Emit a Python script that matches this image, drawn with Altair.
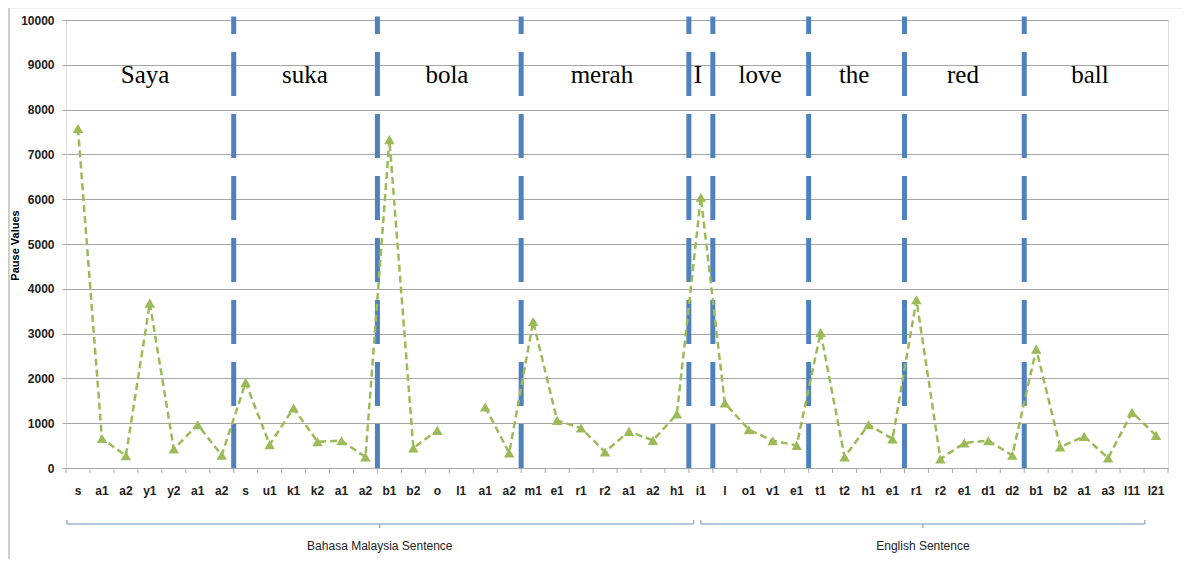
import altair as alt
import pandas as pd

# ---- data ----
cats = ["s", "a1", "a2", "y1", "y2", "a1", "a2",
        "s", "u1", "k1", "k2", "a1", "a2",
        "b1", "b2", "o", "l1", "a1", "a2",
        "m1", "e1", "r1", "r2", "a1", "a2", "h1",
        "i1",
        "l", "o1", "v1", "e1",
        "t1", "t2", "h1", "e1",
        "r1", "r2", "e1", "d1", "d2",
        "b1", "b2", "a1", "a3", "l11", "l21"]
values = [7580, 660, 275, 3680, 424, 967, 283,
          1911, 520, 1338, 587, 610, 245,
          7330, 446, 840, None, 1360, 335,
          3271, 1063, 892, 357, 818, 617, 1204,
          6045,
          1450, 855, 610, 505,
          3026, 245, 967, 647,
          3755, 200, 558, 610, 283,
          2654, 468, 706, 223, 1242, 729]

# word boundaries (index of first category of each new word)
boundaries = [7, 13, 19, 26, 27, 31, 35, 40]
words = ["Saya", "suka", "bola", "merah", "I", "love", "the", "red", "ball"]
word_pos = [2.8, 9.47, 15.4, 21.87, 25.88, 28.47, 32.4, 36.94, 42.24]
word_val = 8770

groups = ["Bahasa Malaysia Sentence", "English Sentence"]
group_start = [-0.46, 26.0]
group_end = [25.7, 44.53]
group_mid = [12.6, 35.27]

W, H = 1102, 448
n = len(cats)

df = pd.DataFrame({"i": list(range(n)), "cat": cats, "v": values})
df_pts = df[df["v"].notna()]
df_b = pd.DataFrame({"b": [b - 0.5 for b in boundaries], "y0": 0, "y1": 10080})
df_w = pd.DataFrame({"x": word_pos, "w": words, "y": word_val})
df_g = pd.DataFrame({"g": groups, "s": group_start, "e": group_end, "m": group_mid})
df_hooks = pd.DataFrame({"x": group_start + group_end})
df_ticks = pd.DataFrame({"t": [k - 0.5 for k in range(n + 1)]})

x_scale = alt.Scale(domain=[-0.5, n - 0.5], nice=False, zero=False)
y_scale = alt.Scale(domain=[0, 10000], nice=False)

x_axis = alt.Axis(
    labels=False, ticks=False, domainColor="#A6A6A6", grid=False, title=None,
)
y_axis = alt.Axis(
    values=list(range(0, 10001, 1000)), format="d", grid=True, gridColor="#A6A6A6",
    domain=False, tickSize=4, tickColor="#A6A6A6", labelPadding=8,
    labelFont="Liberation Sans", labelFontSize=12, labelFontWeight="bold",
    labelColor="#222222", title="Pause Values", titleFont="Liberation Sans",
    titleFontSize=11, titleFontWeight="bold", titleColor="#000000",
    titleAngle=-90, titleX=-46, titleY=225,
)

frame = alt.Chart(pd.DataFrame({"k": [0]})).mark_rect(
    fillOpacity=0, stroke="#BFBFBF", strokeWidth=1.5
).encode(x=alt.value(-57), x2=alt.value(1200), y=alt.value(-12.5), y2=alt.value(700))

line = alt.Chart(df).mark_line(
    color="#9BBB59", strokeWidth=2.5, strokeDash=[7, 4]
).encode(
    x=alt.X("i:Q", scale=x_scale, axis=x_axis),
    y=alt.Y("v:Q", scale=y_scale, axis=y_axis),
)

pts = alt.Chart(df_pts).mark_point(
    shape="triangle-up", filled=True, color="#9BBB59", size=110, opacity=1
).encode(x=alt.X("i:Q", scale=x_scale), y=alt.Y("v:Q", scale=y_scale))

xticks = alt.Chart(df_ticks).mark_rule(color="#A6A6A6", strokeWidth=1).encode(
    x=alt.X("t:Q", scale=x_scale), y=alt.value(H), y2=alt.value(H + 5)
)

xlabels = alt.Chart(df).mark_text(
    font="Liberation Sans", fontSize=12, fontWeight="bold", color="#222222",
    baseline="middle"
).encode(x=alt.X("i:Q", scale=x_scale), y=alt.value(H + 23), text="cat:N")

rules = alt.Chart(df_b).mark_rule(
    color="#4F81BD", strokeWidth=5, strokeDash=[44, 18]
).encode(
    x=alt.X("b:Q", scale=x_scale),
    y=alt.Y("y0:Q", scale=y_scale),
    y2="y1:Q",
)

wtext = alt.Chart(df_w).mark_text(
    font="Liberation Serif", fontSize=25, color="#000000", baseline="middle"
).encode(x=alt.X("x:Q", scale=x_scale), y=alt.Y("y:Q", scale=y_scale), text="w:N")

BR = "#9DB5CE"
br_line = alt.Chart(df_g).mark_rule(color=BR, strokeWidth=1.5).encode(
    x=alt.X("s:Q", scale=x_scale), x2="e:Q", y=alt.value(504)
)
br_hooks = alt.Chart(df_hooks).mark_rule(color=BR, strokeWidth=1.5).encode(
    x=alt.X("x:Q", scale=x_scale), y=alt.value(500), y2=alt.value(504)
)
br_mid = alt.Chart(df_g).mark_rule(color=BR, strokeWidth=1.5).encode(
    x=alt.X("m:Q", scale=x_scale), y=alt.value(504), y2=alt.value(508)
)
br_text = alt.Chart(df_g).mark_text(
    font="Liberation Sans", fontSize=12, color="#222222", baseline="middle"
).encode(x=alt.X("m:Q", scale=x_scale), y=alt.value(526), text="g:N")

chart = alt.layer(
    frame, rules, line, pts, xticks, xlabels, wtext, br_line, br_hooks, br_mid, br_text
).properties(
    width=W, height=H,
    autosize=alt.AutoSizeParams(type="none"),
    padding={"left": 58, "top": 12, "right": 14, "bottom": 91},
).configure_view(stroke=None).configure(background="white")

chart.save("out.html", embed_options={"renderer": "svg", "actions": False})
